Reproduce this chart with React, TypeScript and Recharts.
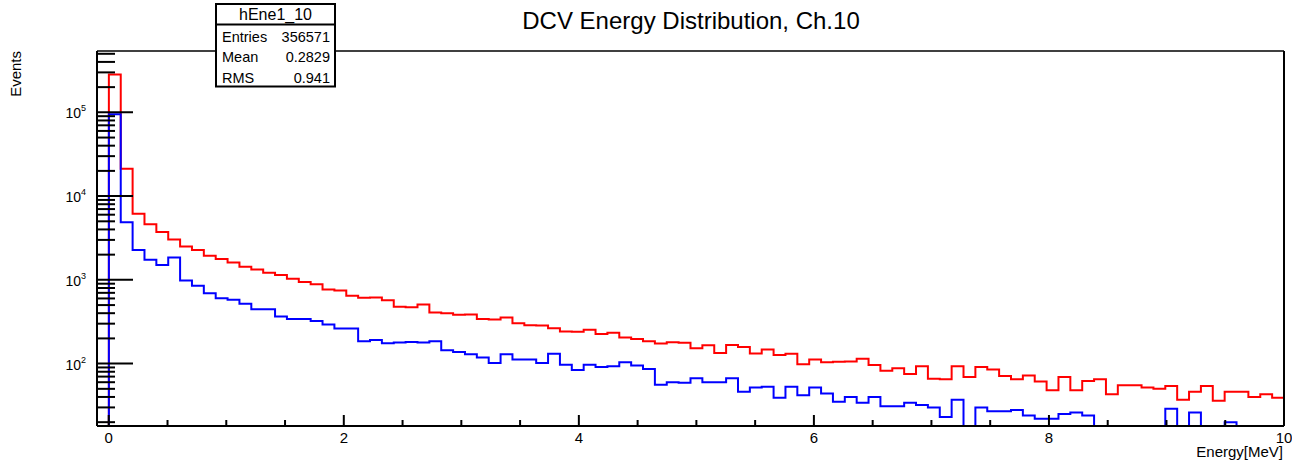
import React from "react";
import { ComposedChart, Line, XAxis, YAxis } from "recharts";

const FONT = "'Liberation Sans', Arial, Helvetica, sans-serif";

const TITLE = "DCV Energy Distribution, Ch.10";
const HIST_NAME = "hEne1_10";
const STAT_NAMES = ["Entries", "Mean", "RMS"];
const STAT_VALUES = ["356571", "0.2829", "0.941"];
const X_TITLE = "Energy[MeV]";
const Y_TITLE = "Events";

// histogram binning: 101 bins of 0.101 starting at -0.1
const BIN_LOW = -0.1;
const BIN_WIDTH = 0.101;
const X_RANGE = [-0.1, 10];
const Y_RANGE = [18, 540000];
const X_MAJOR = [0, 2, 4, 6, 8, 10];
const X_MINOR_STEP = 0.5;
const Y_DECADES = [10, 100, 1000, 10000, 100000];

// first entry is the (empty) bin starting at -0.1
const RED_COUNTS = [
  0, 284000, 21200, 6150, 4620, 3720, 3040, 2510, 2265, 1940, 1770,
  1615, 1430, 1332, 1213, 1140, 1030, 946, 889, 768, 747,
  644, 610, 616, 572, 476, 472, 508, 408, 400, 382,
  386, 342, 336, 356, 304, 288, 285, 265, 242, 240,
  253, 225, 233, 205, 197, 185, 174, 180, 178, 153,
  166, 134, 167, 158, 132, 147, 127, 131, 98, 112,
  104, 105, 106, 114, 96, 82, 88, 75, 93, 66,
  65, 93, 69, 91, 85, 71, 65, 72, 61, 48,
  69, 48, 62, 65, 43, 55, 55, 52, 50, 54,
  37, 46, 54, 36, 46, 46, 40, 43, 39, 40,
];

const BLUE_COUNTS = [
  0, 95000, 4890, 2280, 1735, 1500, 1855, 984, 848, 694, 604,
  577, 517, 446, 446, 365, 340, 340, 322, 293, 262,
  262, 185, 192, 175, 179, 181, 179, 185, 144, 138,
  129, 118, 102, 129, 112, 112, 102, 131, 97, 84,
  97, 91, 93, 104, 95, 86, 56, 60, 59, 67,
  60, 60, 67, 46, 52, 53, 39, 53, 42, 52,
  44, 35, 40, 34, 40, 31, 31, 34, 32, 30,
  23, 37, 0, 30, 27, 27, 28, 24, 22, 22,
  25, 26, 24, 0, 0, 0, 0, 0, 0, 29,
  0, 26, 0, 0, 20, 0, 0, 0, 0, 0,
];

// empty bins sit on the frame bottom like ROOT does
const floorVal = (v: number) => (v > 0 ? v : Y_RANGE[0]);

const data = RED_COUNTS.map((_, j) => ({
  x: BIN_LOW + j * BIN_WIDTH,
  red: floorVal(RED_COUNTS[j]),
  blue: floorVal(BLUE_COUNTS[j]),
}));
data.push({
  x: BIN_LOW + RED_COUNTS.length * BIN_WIDTH,
  red: floorVal(RED_COUNTS[RED_COUNTS.length - 1]),
  blue: floorVal(BLUE_COUNTS[BLUE_COUNTS.length - 1]),
});

const xTicks: number[] = [];
for (let i = 0; i * X_MINOR_STEP <= X_RANGE[1]; i++) xTicks.push(i * X_MINOR_STEP);

const yTicks: number[] = [];
Y_DECADES.forEach((d) => {
  for (let m = 1; m <= 9; m++) {
    const v = m * d;
    if (v >= Y_RANGE[0] && v <= Y_RANGE[1]) yTicks.push(v);
  }
});

const XTick = (props: any) => {
  const { x, y, payload } = props;
  const v = payload.value;
  const major = X_MAJOR.includes(v);
  return (
    <g>
      <line x1={x} x2={x} y1={y} y2={y - (major ? 11 : 6)} stroke="#000" strokeWidth={2} />
      {major && (
        <text x={x} y={y + 17} textAnchor="middle" fontSize={15} fill="#000" fontFamily={FONT}>
          {v}
        </text>
      )}
    </g>
  );
};

const YTick = (props: any) => {
  const { x, y, payload } = props;
  const v = payload.value;
  const exp = Math.round(Math.log10(v));
  const major = Math.abs(v - Math.pow(10, exp)) < 1e-6 * v;
  return (
    <g>
      <line x1={x} x2={x + (major ? 36 : 18)} y1={y} y2={y} stroke="#000" strokeWidth={2} />
      {major && (
        <text x={x - 11} y={y + 6} textAnchor="end" fontSize={14} fill="#000" fontFamily={FONT}>
          10
          <tspan dy={-7} fontSize={9}>
            {exp}
          </tspan>
        </text>
      )}
    </g>
  );
};

export default function App() {
  return (
    <div style={{ position: "absolute", left: 0, top: 0, width: 1292, height: 472, background: "#fff" }}>
      <ComposedChart
        width={1292}
        height={472}
        data={data}
        margin={{ top: 50, right: 7, bottom: 45, left: 96 }}
      >
        <XAxis
          dataKey="x"
          type="number"
          domain={X_RANGE}
          allowDataOverflow
          ticks={xTicks}
          interval={0}
          tick={<XTick />}
          tickLine={false}
          tickSize={0}
          tickMargin={0}
          height={1}
          axisLine={{ stroke: "#000", strokeWidth: 2 }}
        />
        <XAxis
          xAxisId="top"
          orientation="top"
          dataKey="x"
          type="number"
          domain={X_RANGE}
          allowDataOverflow
          tick={false}
          tickLine={false}
          height={1}
          axisLine={{ stroke: "#000", strokeWidth: 1.5 }}
        />
        <YAxis
          type="number"
          scale="log"
          domain={Y_RANGE}
          allowDataOverflow
          ticks={yTicks}
          interval={0}
          tick={<YTick />}
          tickLine={false}
          tickSize={0}
          tickMargin={0}
          width={1}
          axisLine={{ stroke: "#000", strokeWidth: 2 }}
        />
        <YAxis
          yAxisId="right"
          orientation="right"
          type="number"
          domain={[0, 1]}
          tick={false}
          tickLine={false}
          width={1}
          axisLine={{ stroke: "#000", strokeWidth: 2 }}
        />
        <Line
          dataKey="red"
          type="stepAfter"
          stroke="#ff0000"
          strokeWidth={2}
          dot={false}
          activeDot={false}
          isAnimationActive={false}
        />
        <Line
          dataKey="blue"
          type="stepAfter"
          stroke="#0000ff"
          strokeWidth={2}
          dot={false}
          activeDot={false}
          isAnimationActive={false}
        />
      </ComposedChart>
      <svg
        width={1292}
        height={472}
        style={{ position: "absolute", left: 0, top: 0, pointerEvents: "none" }}
        fontFamily={FONT}
      >
        <text x={691} y={29} textAnchor="middle" fontSize={24} fill="#000">
          {TITLE}
        </text>
        <rect x={216} y={4} width={119} height={82.5} fill="#fff" stroke="#000" strokeWidth={2} />
        <line x1={216} x2={335} y1={24.5} y2={24.5} stroke="#000" strokeWidth={2} />
        <text x={275.5} y={20} textAnchor="middle" fontSize={16} fill="#000">
          {HIST_NAME}
        </text>
        {STAT_NAMES.map((n, i) => (
          <g key={n}>
            <text x={222} y={41.7 + i * 20.4} fontSize={14.5} fill="#000">
              {n}
            </text>
            <text x={330} y={41.7 + i * 20.4} textAnchor="end" fontSize={14.5} fill="#000">
              {STAT_VALUES[i]}
            </text>
          </g>
        ))}
        <text
          transform="translate(21,51) rotate(-90)"
          textAnchor="end"
          fontSize={15}
          fill="#000"
        >
          {Y_TITLE}
        </text>
        <text x={1283} y={457} textAnchor="end" fontSize={15} fill="#000">
          {X_TITLE}
        </text>
      </svg>
    </div>
  );
}
